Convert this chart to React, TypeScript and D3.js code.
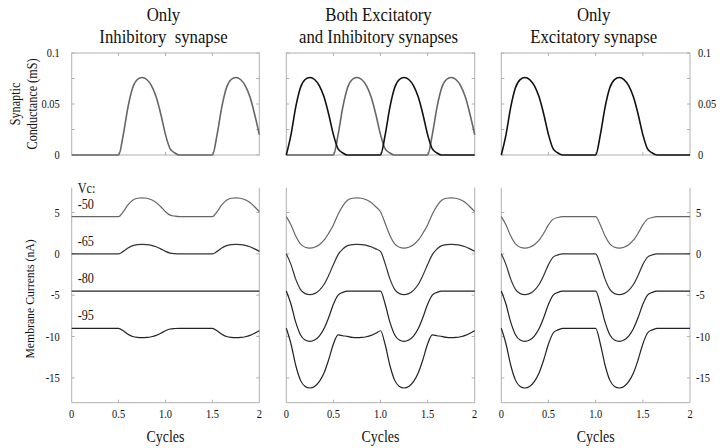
import * as d3 from "d3";

// sample times (cycles)
const cycles = [0, 0.05, 0.1, 0.15, 0.2, 0.25, 0.3, 0.35, 0.4, 0.45, 0.5, 0.55, 0.6, 0.65, 0.7, 0.75, 0.8, 0.85, 0.9, 0.95,
  1, 1.05, 1.1, 1.15, 1.2, 1.25, 1.3, 1.35, 1.4, 1.45, 1.5, 1.55, 1.6, 1.65, 1.7, 1.75, 1.8, 1.85, 1.9, 1.95, 2];

// synaptic conductances (mS)
const gExc = [0, 0.02, 0.047, 0.066, 0.074, 0.076, 0.074, 0.068, 0.057, 0.04, 0.02, 0.006, 0.002, 0, 0, 0, 0, 0, 0, 0,
  0, 0.02, 0.047, 0.066, 0.074, 0.076, 0.074, 0.068, 0.057, 0.04, 0.02, 0.006, 0.002, 0, 0, 0, 0, 0, 0, 0, 0];
const gInh = [0, 0, 0, 0, 0, 0, 0, 0, 0, 0, 0, 0.02, 0.047, 0.066, 0.074, 0.076, 0.074, 0.068, 0.057, 0.04,
  0.02, 0.006, 0.002, 0, 0, 0, 0, 0, 0, 0, 0, 0.02, 0.047, 0.066, 0.074, 0.076, 0.074, 0.068, 0.057, 0.04, 0.02];

// membrane currents (nA), only inhibitory
const inh50 = [4.5, 4.5, 4.5, 4.5, 4.5, 4.5, 4.5, 4.5, 4.5, 4.5, 4.5, 5.1, 5.91, 6.48, 6.72, 6.78, 6.72, 6.54, 6.21, 5.7,
  5.1, 4.68, 4.56, 4.5, 4.5, 4.5, 4.5, 4.5, 4.5, 4.5, 4.5, 5.1, 5.91, 6.48, 6.72, 6.78, 6.72, 6.54, 6.21, 5.7, 5.1];
const inh65 = [0, 0, 0, 0, 0, 0, 0, 0, 0, 0, 0, 0.3, 0.71, 0.99, 1.11, 1.14, 1.11, 1.02, 0.86, 0.6,
  0.3, 0.09, 0.03, 0, 0, 0, 0, 0, 0, 0, 0, 0.3, 0.71, 0.99, 1.11, 1.14, 1.11, 1.02, 0.86, 0.6, 0.3];
const inh80 = [-4.5, -4.5, -4.5, -4.5, -4.5, -4.5, -4.5, -4.5, -4.5, -4.5, -4.5, -4.5, -4.5, -4.5, -4.5, -4.5, -4.5, -4.5, -4.5, -4.5,
  -4.5, -4.5, -4.5, -4.5, -4.5, -4.5, -4.5, -4.5, -4.5, -4.5, -4.5, -4.5, -4.5, -4.5, -4.5, -4.5, -4.5, -4.5, -4.5, -4.5, -4.5];
const inh95 = [-9, -9, -9, -9, -9, -9, -9, -9, -9, -9, -9, -9.3, -9.71, -9.99, -10.11, -10.14, -10.11, -10.02, -9.86, -9.6,
  -9.3, -9.09, -9.03, -9, -9, -9, -9, -9, -9, -9, -9, -9.3, -9.71, -9.99, -10.11, -10.14, -10.11, -10.02, -9.86, -9.6, -9.3];

// both excitatory and inhibitory
const both50 = [4.5, 3.5, 2.15, 1.2, 0.8, 0.7, 0.8, 1.1, 1.65, 2.5, 3.5, 4.8, 5.81, 6.48, 6.72, 6.78, 6.72, 6.54, 6.21, 5.7,
  5.1, 3.68, 2.21, 1.2, 0.8, 0.7, 0.8, 1.1, 1.65, 2.5, 3.5, 4.8, 5.81, 6.48, 6.72, 6.78, 6.72, 6.54, 6.21, 5.7, 5.1];
const both65 = [0, -1.3, -3.06, -4.29, -4.81, -4.94, -4.81, -4.42, -3.71, -2.6, -1.3, -0.09, 0.58, 0.99, 1.11, 1.14, 1.11, 1.02, 0.86, 0.6,
  0.3, -1.21, -3.03, -4.29, -4.81, -4.94, -4.81, -4.42, -3.71, -2.6, -1.3, -0.09, 0.58, 0.99, 1.11, 1.14, 1.11, 1.02, 0.86, 0.6, 0.3];
const both80 = [-4.5, -6.1, -8.26, -9.78, -10.42, -10.58, -10.42, -9.94, -9.06, -7.7, -6.1, -4.98, -4.66, -4.5, -4.5, -4.5, -4.5, -4.5, -4.5, -4.5,
  -4.5, -6.1, -8.26, -9.78, -10.42, -10.58, -10.42, -9.94, -9.06, -7.7, -6.1, -4.98, -4.66, -4.5, -4.5, -4.5, -4.5, -4.5, -4.5, -4.5, -4.5];
const both95 = [-9, -10.9, -13.47, -15.27, -16.03, -16.22, -16.03, -15.46, -14.42, -12.8, -10.9, -9.8, -9.9, -9.99, -10.11, -10.14, -10.11, -10.02, -9.86, -9.6,
  -9.3, -10.99, -13.5, -15.27, -16.03, -16.22, -16.03, -15.46, -14.42, -12.8, -10.9, -9.8, -9.9, -9.99, -10.11, -10.14, -10.11, -10.02, -9.86, -9.6, -9.3];

// only excitatory
const exc50 = [4.5, 3.5, 2.15, 1.2, 0.8, 0.7, 0.8, 1.1, 1.65, 2.5, 3.5, 4.2, 4.4, 4.5, 4.5, 4.5, 4.5, 4.5, 4.5, 4.5,
  4.5, 3.5, 2.15, 1.2, 0.8, 0.7, 0.8, 1.1, 1.65, 2.5, 3.5, 4.2, 4.4, 4.5, 4.5, 4.5, 4.5, 4.5, 4.5, 4.5, 4.5];
const exc65 = [0, -1.3, -3.06, -4.29, -4.81, -4.94, -4.81, -4.42, -3.71, -2.6, -1.3, -0.39, -0.13, 0, 0, 0, 0, 0, 0, 0,
  0, -1.3, -3.06, -4.29, -4.81, -4.94, -4.81, -4.42, -3.71, -2.6, -1.3, -0.39, -0.13, 0, 0, 0, 0, 0, 0, 0, 0];
const exc80 = [-4.5, -6.1, -8.26, -9.78, -10.42, -10.58, -10.42, -9.94, -9.06, -7.7, -6.1, -4.98, -4.66, -4.5, -4.5, -4.5, -4.5, -4.5, -4.5, -4.5,
  -4.5, -6.1, -8.26, -9.78, -10.42, -10.58, -10.42, -9.94, -9.06, -7.7, -6.1, -4.98, -4.66, -4.5, -4.5, -4.5, -4.5, -4.5, -4.5, -4.5, -4.5];
const exc95 = [-9, -10.9, -13.47, -15.27, -16.03, -16.22, -16.03, -15.46, -14.42, -12.8, -10.9, -9.57, -9.19, -9, -9, -9, -9, -9, -9, -9,
  -9, -10.9, -13.47, -15.27, -16.03, -16.22, -16.03, -15.46, -14.42, -12.8, -10.9, -9.57, -9.19, -9, -9, -9, -9, -9, -9, -9, -9];

const holdLabels = ["-50", "-65", "-80", "-95"];
const holdOffsets = [4.5, 0, -4.5, -9];
const traceColors = ["#666", "#333", "#222", "#222"];

const titles = [
  ["Only", "Inhibitory  synapse"],
  ["Both Excitatory", "and Inhibitory synapses"],
  ["Only", "Excitatory synapse"],
];
const xTicks = [0, 0.5, 1, 1.5, 2];
const xTickLabels = ["0", "0.5", "1.0", "1.5", "2"];
const gTicks = [0, 0.025, 0.05, 0.075, 0.1];
const gTickLabels = ["0", "", "0.05", "", "0.1"];
const iTicks = [5, 0, -5, -10, -15];
const iTickLabels = ["5", "0", "-5", "-10", "-15"];

const panels = [
  { g: [{ v: gInh, c: "#666" }], traces: [inh50, inh65, inh80, inh95] },
  { g: [{ v: gInh, c: "#666" }, { v: gExc, c: "#111" }], traces: [both50, both65, both80, both95] },
  { g: [{ v: gExc, c: "#111" }], traces: [exc50, exc65, exc80, exc95] },
];

const FONT = "Liberation Serif, DejaVu Serif, serif";
const FRAME = "#b0b0b0";

function T({ x, y, size, anchor = "middle", rotate = 0, sq = 0.87, children }: any) {
  return (
    <text
      transform={`translate(${x},${y}) rotate(${rotate}) scale(${sq},1)`}
      fontSize={size}
      fontFamily={FONT}
      textAnchor={anchor}
      fill="#111"
      style={{ whiteSpace: "pre" }}
    >
      {children}
    </text>
  );
}

export default function App() {
  const cols: [number, number][] = [[71.7, 259.3], [286.3, 474.7], [501.3, 690]];
  const yG = d3.scaleLinear().domain([0, 0.1]).range([155, 53]);
  const yI = d3.scaleLinear().domain([-18, 8]).range([402.7, 187.7]);
  const tk = 3;

  return (
    <div style={{ position: "absolute", left: 0, top: 0 }}>
      <svg width={720} height={448} style={{ display: "block", background: "#fff" }}>
        {panels.map((p, i) => {
          const x = d3.scaleLinear().domain([0, 2]).range(cols[i]);
          const [x0, x1] = cols[i];
          const cx = (x0 + x1) / 2;
          const lineG = d3.line<number>().x((_, k) => x(cycles[k])).y((d) => yG(d)).curve(d3.curveMonotoneX);
          const lineI = d3.line<number>().x((_, k) => x(cycles[k])).y((d) => yI(d)).curve(d3.curveMonotoneX);
          return (
            <g key={i}>
              <T x={cx - 2} y={21} size={18} sq={0.93}>{titles[i][0]}</T>
              <T x={cx - 2} y={43} size={18} sq={0.93}>{titles[i][1]}</T>

              {/* conductance panel */}
              <rect x={x0} y={yG(0.1)} width={x1 - x0} height={yG(0) - yG(0.1)} fill="none" stroke={FRAME} />
              {xTicks.slice(1, 4).map((t) => (
                <g key={t} stroke={FRAME}>
                  <line x1={x(t)} x2={x(t)} y1={yG(0.1)} y2={yG(0.1) + tk} />
                  <line x1={x(t)} x2={x(t)} y1={yG(0)} y2={yG(0) - tk} />
                </g>
              ))}
              {gTicks.map((t, k) => (
                <g key={t}>
                  <line x1={x0} x2={x0 + tk} y1={yG(t)} y2={yG(t)} stroke={FRAME} />
                  <line x1={x1} x2={x1 - tk} y1={yG(t)} y2={yG(t)} stroke={FRAME} />
                  {i === 0 && gTickLabels[k] && (
                    <T x={x0 - 12} y={yG(t) + 4} size={12} anchor="end">{gTickLabels[k]}</T>
                  )}
                  {i === 2 && gTickLabels[k] && (
                    <T x={x1 + 8} y={yG(t) + 4} size={12} anchor="start">{gTickLabels[k]}</T>
                  )}
                </g>
              ))}
              {p.g.map((s, k) => (
                <path key={k} d={lineG(s.v) || ""} fill="none" stroke={s.c} strokeWidth={1.6} />
              ))}

              {/* current panel */}
              <g stroke={FRAME}>
                <line x1={x0} x2={x0} y1={yI(8)} y2={yI(-18)} />
                <line x1={x1} x2={x1} y1={yI(8)} y2={yI(-18)} />
                <line x1={x0} x2={x1} y1={yI(-18)} y2={yI(-18)} />
              </g>
              {xTicks.map((t, k) => (
                <g key={t}>
                  {k > 0 && k < 4 && (
                    <line x1={x(t)} x2={x(t)} y1={yI(-18)} y2={yI(-18) - tk} stroke={FRAME} />
                  )}
                  <T x={x(t)} y={418} size={12}>{xTickLabels[k]}</T>
                </g>
              ))}
              {iTicks.map((t, k) => (
                <g key={t}>
                  <line x1={x0} x2={x0 + tk} y1={yI(t)} y2={yI(t)} stroke={FRAME} />
                  <line x1={x1} x2={x1 - tk} y1={yI(t)} y2={yI(t)} stroke={FRAME} />
                  {i === 0 && <T x={x0 - 12} y={yI(t) + 4} size={12} anchor="end">{iTickLabels[k]}</T>}
                  {i === 2 && <T x={x1 + 6} y={yI(t) + 4} size={12} anchor="start">{iTickLabels[k]}</T>}
                </g>
              ))}
              {p.traces.map((tr, k) => (
                <path key={k} d={lineI(tr) || ""} fill="none" stroke={traceColors[k]} strokeWidth={1.2} />
              ))}
              <T x={cx} y={442} size={16}>Cycles</T>

              {i === 0 && (
                <g>
                  <T x={x0 + 6} y={yI(holdOffsets[0]) - 24} size={14} anchor="start">Vc:</T>
                  {holdLabels.map((l, k) => (
                    <T key={l} x={x0 + 6} y={yI(holdOffsets[k]) - 8} size={14} anchor="start">{l}</T>
                  ))}
                </g>
              )}
            </g>
          );
        })}
        <T x={20} y={104} size={14} rotate={-90}>Synaptic</T>
        <T x={37} y={104} size={14} rotate={-90}>Conductance (mS)</T>
        <T x={34} y={299} size={13.5} rotate={-90}>Membrane Currents (nA)</T>
      </svg>
    </div>
  );
}
